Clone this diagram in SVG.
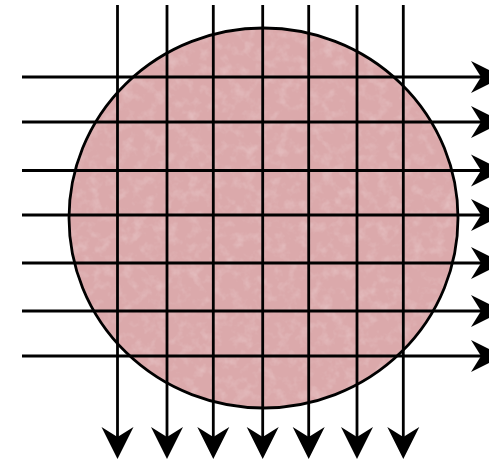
<svg xmlns="http://www.w3.org/2000/svg" width="489" height="463" viewBox="0 0 489 463">
<style>
.ln{stroke:#000;stroke-width:2.8;fill:none;marker-end:url(#ah)}
.disc{fill:#dba9ab;stroke:#000;stroke-width:2.8}
</style>
<defs>
<marker id="ah" markerUnits="userSpaceOnUse" viewBox="-33 -17 34 34" markerWidth="34" markerHeight="34" refX="-10" refY="0" orient="auto">
<path d="M0,0 L-32,-16 L-22,0 L-32,16 Z" fill="#000"/>
</marker>
<filter id="tex" x="0" y="0" width="100%" height="100%">
<feTurbulence type="fractalNoise" baseFrequency="0.09" numOctaves="3" seed="7" result="n"/>
<feColorMatrix in="n" type="matrix" values="0 0 0 0 1  0 0 0 0 0.95  0 0 0 0 0.95  1.6 0 0 0 -0.75" result="w"/>
<feComposite in="w" in2="SourceAlpha" operator="in"/>
</filter>
</defs>
<g id="disc">
<ellipse class="disc" cx="263.5" cy="218" rx="194.5" ry="190"/>
<ellipse cx="263.5" cy="218" rx="193" ry="188.5" fill="#fff" opacity="0.35" filter="url(#tex)"/>
</g>
<g id="connectors">
<line class="ln" x1="22" y1="77" x2="493" y2="77"/>
<line class="ln" x1="22" y1="122" x2="493" y2="122"/>
<line class="ln" x1="22" y1="170.5" x2="493" y2="170.5"/>
<line class="ln" x1="22" y1="215" x2="493" y2="215"/>
<line class="ln" x1="22" y1="263" x2="493" y2="263"/>
<line class="ln" x1="22" y1="311" x2="493" y2="311"/>
<line class="ln" x1="22" y1="356" x2="493" y2="356"/>
<line class="ln" x1="117.5" y1="5" x2="117.5" y2="449"/>
<line class="ln" x1="167" y1="5" x2="167" y2="449"/>
<line class="ln" x1="213.3" y1="5" x2="213.3" y2="449"/>
<line class="ln" x1="262.7" y1="5" x2="262.7" y2="449"/>
<line class="ln" x1="308.7" y1="5" x2="308.7" y2="449"/>
<line class="ln" x1="357" y1="5" x2="357" y2="449"/>
<line class="ln" x1="403.3" y1="5" x2="403.3" y2="449"/>
</g>
</svg>
